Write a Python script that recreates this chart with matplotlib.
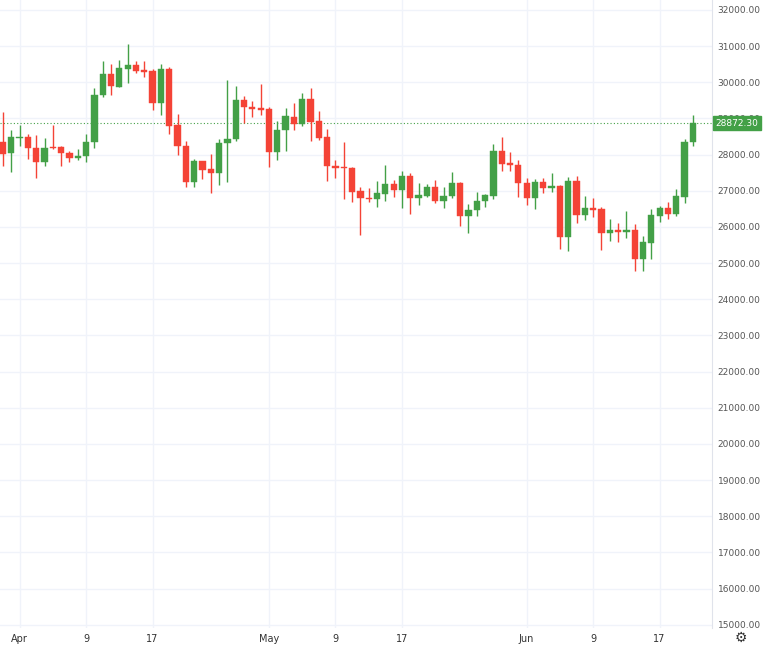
import matplotlib
matplotlib.use("Agg")
import matplotlib.pyplot as plt
import numpy as np
import datetime as dt

start = dt.date(2023, 3, 30)
opens = [28350,28040,28450,28480,28180,27790,28210,28200,28040,27900,27960,28340,29635,30240,29880,30380,30490,30350,30320,29440,
         30380,28810,28230,27240,27820,27600,27490,28315,28425,29500,29330,29280,29250,28070,28670,29030,28840,29550,28920,28480,
         27680,27655,27630,26995,26800,26775,26910,27190,27020,27410,26800,26860,27105,26720,26860,27215,26310,26470,26720,26860,
         28095,27765,27710,27215,26800,27240,27075,27130,25730,27270,26335,26530,26500,25840,25920,25870,25920,25125,25565,26310,
         26530,26360,26830,28340]
highs = [29180,28670,28810,28560,28535,28450,28810,28230,28095,28150,28560,29855,30600,30515,30625,31065,30600,30600,30370,30515,
         30430,29110,28370,27875,27830,28010,28425,30050,29910,29610,29470,29965,29330,28920,29280,29415,29715,29855,29195,28700,
         27850,28340,27655,27105,27080,27270,27710,27300,27545,27490,27215,27190,27300,27105,27520,27240,26640,26970,26910,28290,
         28480,28070,27850,27350,27325,27350,27490,27160,27380,27410,26860,26800,26555,26225,26115,26445,26090,25760,26500,26585,
         26690,27050,28425,29085]
lows = [27690,27520,28230,27875,27350,27680,28150,27680,27790,27850,27790,28180,29600,29660,29880,29990,30270,30155,29220,29085,
        28560,27985,27105,27105,27325,26940,27160,27240,28370,28865,29030,29085,27655,27850,28095,28670,28780,28370,28400,27270,
        27350,26775,26690,25785,26690,26555,26720,26830,26530,26360,26610,26830,26665,26530,26800,26030,25840,26310,26555,26775,
        27545,27545,26830,26610,26500,26940,26970,25400,25345,26115,26200,26280,25370,25620,25590,25700,24795,24770,25125,26140,
        26225,26310,26665,28230]
closes = [28030,28480,28480,28180,27790,28180,28180,28040,27900,27960,28340,29660,30240,29910,30405,30490,30320,30295,29440,30380,
          28780,28230,27240,27820,27570,27490,28315,28425,29500,29330,29250,29220,28070,28670,29060,28840,29550,28890,28450,27680,
          27630,27630,26970,26800,26775,26940,27190,27020,27410,26800,26885,27105,26720,26860,27215,26310,26470,26720,26885,28095,
          27740,27710,27215,26800,27240,27075,27130,25730,27270,26335,26530,26470,25840,25920,25870,25920,25125,25590,26335,26530,
          26360,26860,28340,28872.30]
tick_dates = ["2023-04-01","2023-04-09","2023-04-17","2023-05-01","2023-05-09","2023-05-17","2023-06-01","2023-06-09","2023-06-17"]
tick_labels = ["Apr","9","17","May","9","17","Jun","9","17"]
y_ticks = list(range(15000, 32001, 1000))

GREEN = "#43a047"
RED = "#f44336"

fig = plt.figure(figsize=(7.68, 6.49), dpi=100)
ax = fig.add_axes([0, 628/649*0 + 21/649, 712/768, 628/649])
n = len(opens)
x = np.arange(n)
for i in range(n):
    o, h, l, c = opens[i], highs[i], lows[i], closes[i]
    col = GREEN if c >= o else RED
    ax.vlines(x[i], l, h, color=col, lw=1, zorder=3)
    bot, top = min(o, c), max(o, c)
    ax.bar(x[i], max(top - bot, 15), bottom=bot, width=0.75, color=col, edgecolor=col, lw=0.3, zorder=4)

ax.set_xlim(-0.36, 85.3)
ax.set_ylim(15000 - 3.2*27.51, 32275)
ax.yaxis.tick_right()
ax.set_yticks(y_ticks)
ax.set_yticklabels([f"{v:.2f}" for v in y_ticks], fontsize=6.5, color="#555555")
pos = [(dt.date.fromisoformat(d) - start).days for d in tick_dates]
ax.set_xticks(pos)
ax.set_xticklabels(tick_labels, fontsize=7, color="#333333")
ax.tick_params(length=0, pad=4)
ax.grid(True, color="#f0f3fa", lw=1, zorder=0)
for s in ["top", "left", "bottom"]:
    ax.spines[s].set_visible(False)
ax.spines["right"].set_color("#e0e3eb")

last = closes[-1]
ax.axhline(last, color=GREEN, ls=(0, (1, 2)), lw=0.8, zorder=2)
ax.text(1.005, last, f"{last:.2f}", transform=ax.get_yaxis_transform(), fontsize=6.5,
        color="white", va="center", ha="left",
        bbox=dict(boxstyle="square,pad=0.25", fc=GREEN, ec=GREEN), zorder=10, clip_on=False)
fig.text(741/768, 1-638/649, "⚙", fontsize=10, color="#333333", ha="center", va="center")
fig.savefig("out.png", dpi=100)
